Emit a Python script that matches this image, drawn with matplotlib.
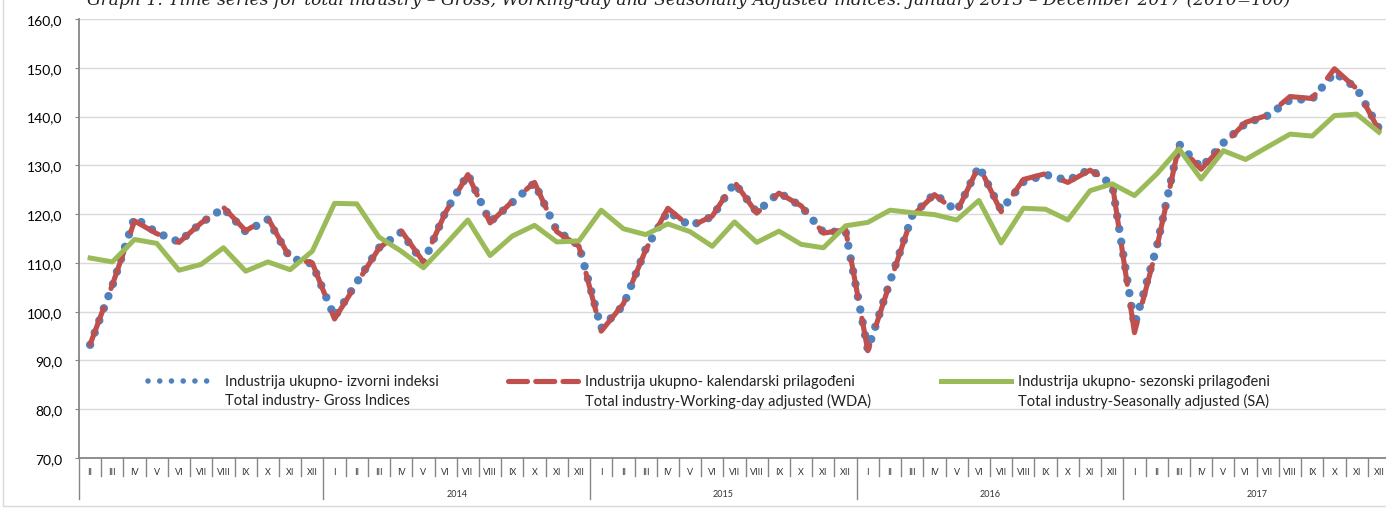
import numpy as np
import matplotlib
matplotlib.use('Agg')
import matplotlib.pyplot as plt
import matplotlib.transforms as mtransforms
from matplotlib.lines import Line2D
from matplotlib.patches import Rectangle

plt.rcParams['font.family'] = ['Lato', 'DejaVu Sans']

# months: Feb 2013 .. Dec 2017
roman = ['I', 'II', 'III', 'IV', 'V', 'VI', 'VII', 'VIII', 'IX', 'X', 'XI', 'XII']
month_labels = roman[1:] + roman * 4
years = ['2014', '2015', '2016', '2017']

gross = [93.2, 105.3, 119.3, 116.2, 114.3, 118.2, 121.2, 116.4, 118.9, 111.0, 109.8,
         98.9, 106.0, 113.1, 116.3, 110.0, 120.5, 128.2, 118.4, 122.4, 126.4, 116.6, 113.6,
         96.6, 101.3, 112.8, 120.6, 117.6, 119.5, 126.4, 120.4, 124.4, 121.6, 116.3, 116.5,
         92.2, 106.2, 119.7, 124.2, 120.6, 129.8, 120.8, 126.6, 128.1, 126.9, 129.2, 126.0,
         97.2, 113.2, 134.4, 129.5, 134.6, 138.6, 140.2, 143.4, 143.6, 149.0, 145.8, 137.6]

wda = [93.3, 105.5, 118.6, 116.0, 114.2, 118.2, 121.4, 116.6, 119.2, 111.0, 110.0,
       98.5, 105.8, 113.0, 116.6, 110.2, 120.4, 128.1, 118.2, 122.6, 126.5, 116.4, 113.4,
       96.0, 101.6, 112.6, 121.2, 117.4, 119.6, 126.6, 120.2, 124.3, 121.7, 116.1, 116.8,
       92.0, 106.0, 119.6, 124.0, 120.4, 129.9, 120.5, 127.1, 128.3, 126.5, 129.0, 126.3,
       95.7, 113.0, 134.0, 129.2, 134.2, 138.8, 140.3, 144.1, 143.7, 149.8, 145.7, 137.2]

sa = [111.0, 110.2, 114.8, 114.0, 108.5, 109.7, 113.1, 108.3, 110.2, 108.6, 112.4,
      122.2, 122.1, 115.3, 112.4, 109.0, 113.8, 118.8, 111.5, 115.5, 117.7, 114.3, 114.5,
      120.8, 117.0, 115.8, 118.0, 116.4, 113.4, 118.4, 114.2, 116.5, 113.8, 113.1, 117.6,
      118.3, 120.8, 120.3, 119.9, 118.8, 122.8, 114.1, 121.2, 121.0, 118.8, 124.8, 126.2,
      123.8, 128.2, 133.4, 127.2, 133.0, 131.2, 133.8, 136.4, 136.0, 140.2, 140.5, 136.8]

legend_l1 = ['Industrija ukupno- izvorni indeksi',
             'Industrija ukupno- kalendarski prilagođeni',
             'Industrija ukupno- sezonski prilagođeni']
legend_l2 = ['Total industry- Gross Indices',
             'Total industry-Working-day adjusted (WDA)',
             'Total industry-Seasonally adjusted (SA)']

title = ('Graph 1. Time series for total industry \u2013 Gross, Working-day and Seasonally '
         'Adjusted indices: January 2013 \u2013 December 2017 (2010=100)')

blue = '#4F81BD'
red = '#C0504D'
green = '#9BBB59'
grey = '#868686'

W, H = 1386, 510
fig = plt.figure(figsize=(W / 100, H / 100), dpi=100)
ax = fig.add_axes([79 / W, 1 - 459 / H, 1311 / W, 439 / H])

x = np.arange(len(month_labels))
l_gross, = ax.plot(x, gross, color=blue, lw=6, linestyle=(0, (0.01, 1.55)),
                   dash_capstyle='round', zorder=3)
l_wda, = ax.plot(x, wda, color=red, lw=3.7, linestyle=(0, (7.6, 4.0)),
                 dash_capstyle='round', dash_joinstyle='round', zorder=4)
l_sa, = ax.plot(x, sa, color=green, lw=3.6, solid_joinstyle='round', zorder=5)

ax.set_xlim(-0.5, len(month_labels) - 0.5)
ax.set_ylim(70, 160)
yt = np.arange(70, 161, 10)
ax.set_yticks(yt)
ax.set_yticklabels([f'{v:.1f}'.replace('.', ',') for v in yt])
ax.tick_params(axis='y', length=3, color=grey, labelsize=10, pad=9)
ax.set_xticks([])
ax.grid(axis='y', color='#D9D9D9', lw=1)
ax.set_axisbelow(True)
for s in ['top', 'right']:
    ax.spines[s].set_visible(False)
ax.spines['left'].set_color(grey)
ax.spines['left'].set_linewidth(1.3)
ax.spines['bottom'].set_color(grey)
ax.spines['bottom'].set_linewidth(1.3)

# category axis: months and years
trans = mtransforms.blended_transform_factory(ax.transData, ax.transAxes)
for i, lab in enumerate(month_labels):
    ax.text(i, -0.031, lab, transform=trans, ha='center', va='center',
            fontsize=6.5, color='#333333')
for i in range(len(month_labels) + 1):
    b = i - 0.5
    yend = -0.093 if (i == 0 or (i - 11) % 12 == 0) else -0.041
    ax.add_line(Line2D([b, b], [0, yend], transform=trans, color=grey,
                       lw=1.0, clip_on=False))
for k, yr in enumerate(years):
    mid = 11 + 12 * k + 5.5
    ax.text(mid, -0.08, yr, transform=trans, ha='center', va='center',
            fontsize=6.5, color='#333333')

# legend drawn inside plot area
leg_x = [148, 508, 941]
handles = [l_gross, l_wda, l_sa]
for px, h, t1, t2 in zip(leg_x, handles, legend_l1, legend_l2):
    x0 = (px - 79) / 1311
    x1 = (px + 70 - 79) / 1311
    ln = Line2D([x0, x1], [0.1754, 0.1754], transform=ax.transAxes,
                color=h.get_color(), lw=h.get_linewidth(),
                linestyle=h.get_linestyle(), dash_capstyle='round', clip_on=False)
    if h is l_gross:
        ln.set_linewidth(4)
        ln.set_linestyle((0, (0.01, 2.1)))
    ax.add_line(ln)
    tx = (px + 77 - 79) / 1311
    ax.text(tx, 0.1754, t1, transform=ax.transAxes, fontsize=10.5,
            va='center', ha='left', color='#222222')
    ax.text(tx, 0.1321, t2, transform=ax.transAxes, fontsize=10.5,
            va='center', ha='left', color='#222222')

# title is partly above the top edge, as in the source
fig.text(0.497, 1 - 5 / H, title, ha='center', va='baseline', fontsize=12.3,
         style='italic', family='DejaVu Serif', color='#222222')

fig.patches.append(Rectangle((3 / W, 3 / H), 1.0, 1.0, transform=fig.transFigure,
                             fill=False, edgecolor='#D9D9D9', lw=1))

fig.savefig('out.png', dpi=100)
